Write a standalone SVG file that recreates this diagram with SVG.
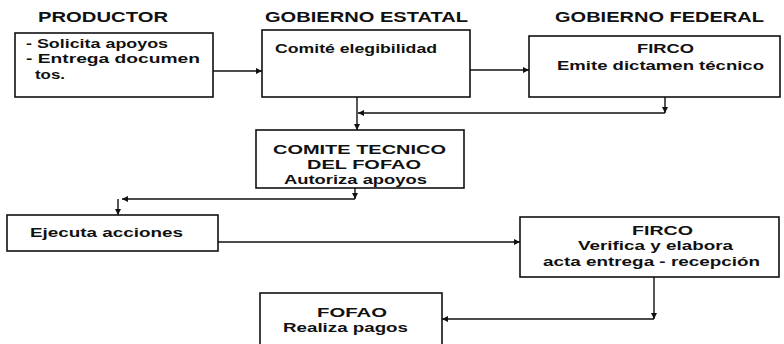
<svg xmlns="http://www.w3.org/2000/svg" width="784" height="344" viewBox="0 0 784 344">
<defs>
<style>
.box{fill:#fff;stroke:#111;stroke-width:1.6}
.t{font-family:"Liberation Sans",Arial,sans-serif;font-weight:bold;font-size:13.4px;fill:#111}
.h{font-family:"Liberation Sans",Arial,sans-serif;font-weight:bold;font-size:15px;fill:#111}
.c{fill:none;stroke:#111;stroke-width:1.4}
</style>
<marker id="ah" markerUnits="userSpaceOnUse" markerWidth="8" markerHeight="8" refX="6" refY="3" orient="auto">
<path d="M0,0 L6,3 L0,6 Z" fill="#111"/>
</marker>
</defs>
<rect width="784" height="344" fill="#fff"/>
<g id="headers">
<text class="h" x="38" y="22" textLength="130" lengthAdjust="spacingAndGlyphs">PRODUCTOR</text>
<text class="h" x="265" y="22" textLength="203" lengthAdjust="spacingAndGlyphs">GOBIERNO ESTATAL</text>
<text class="h" x="555" y="22" textLength="209" lengthAdjust="spacingAndGlyphs">GOBIERNO FEDERAL</text>
</g>
<g id="connectors">
<path class="c" d="M213,71 H262" marker-end="url(#ah)"/>
<path class="c" d="M470,70 H529" marker-end="url(#ah)"/>
<path class="c" d="M357,97 V130" marker-end="url(#ah)"/>
<path class="c" d="M665,97 V113" marker-end="url(#ah)"/>
<path class="c" d="M665,113 H358" marker-end="url(#ah)"/>
<path class="c" d="M355,188 V199" marker-end="url(#ah)"/>
<path class="c" d="M355,199 H122" marker-end="url(#ah)"/>
<path class="c" d="M118,199 V215" marker-end="url(#ah)"/>
<path class="c" d="M218,242 H520" marker-end="url(#ah)"/>
<path class="c" d="M654,277 V319" marker-end="url(#ah)"/>
<path class="c" d="M654,319 H442" marker-end="url(#ah)"/>
</g>
<g id="productor">
<rect class="box" x="15" y="33" width="198" height="64"/>
<text class="t" x="26" y="48" textLength="142" lengthAdjust="spacingAndGlyphs">- Solicita apoyos</text>
<text class="t" x="26" y="63" textLength="174" lengthAdjust="spacingAndGlyphs">- Entrega documen</text>
<text class="t" x="35" y="79" textLength="30" lengthAdjust="spacingAndGlyphs">tos.</text>
</g>
<g id="comite-elegibilidad">
<rect class="box" x="262" y="30" width="208" height="67"/>
<text class="t" x="275" y="53" textLength="162" lengthAdjust="spacingAndGlyphs">Comité elegibilidad</text>
</g>
<g id="firco-dictamen">
<rect class="box" x="529" y="36" width="251" height="61"/>
<text class="t" x="637" y="53" textLength="57" lengthAdjust="spacingAndGlyphs">FIRCO</text>
<text class="t" x="557" y="70" textLength="207" lengthAdjust="spacingAndGlyphs">Emite dictamen técnico</text>
</g>
<g id="comite-tecnico">
<rect class="box" x="256" y="130" width="208" height="58"/>
<text class="t" x="273" y="154" textLength="173" lengthAdjust="spacingAndGlyphs">COMITE TECNICO</text>
<text class="t" x="307" y="169" textLength="114" lengthAdjust="spacingAndGlyphs">DEL FOFAO</text>
<text class="t" x="284" y="184" textLength="143" lengthAdjust="spacingAndGlyphs">Autoriza apoyos</text>
</g>
<g id="ejecuta">
<rect class="box" x="7" y="215" width="211" height="36"/>
<text class="t" x="30" y="237" textLength="153" lengthAdjust="spacingAndGlyphs">Ejecuta acciones</text>
</g>
<g id="firco-verifica">
<rect class="box" x="520" y="217" width="259" height="60"/>
<text class="t" x="632" y="235" textLength="61" lengthAdjust="spacingAndGlyphs">FIRCO</text>
<text class="t" x="578" y="250" textLength="155" lengthAdjust="spacingAndGlyphs">Verifica y elabora</text>
<text class="t" x="543" y="266" textLength="217" lengthAdjust="spacingAndGlyphs">acta entrega - recepción</text>
</g>
<g id="fofao">
<rect class="box" x="260" y="293" width="182" height="60"/>
<text class="t" x="317" y="317" textLength="70" lengthAdjust="spacingAndGlyphs">FOFAO</text>
<text class="t" x="283" y="332" textLength="125" lengthAdjust="spacingAndGlyphs">Realiza pagos</text>
</g>
</svg>
